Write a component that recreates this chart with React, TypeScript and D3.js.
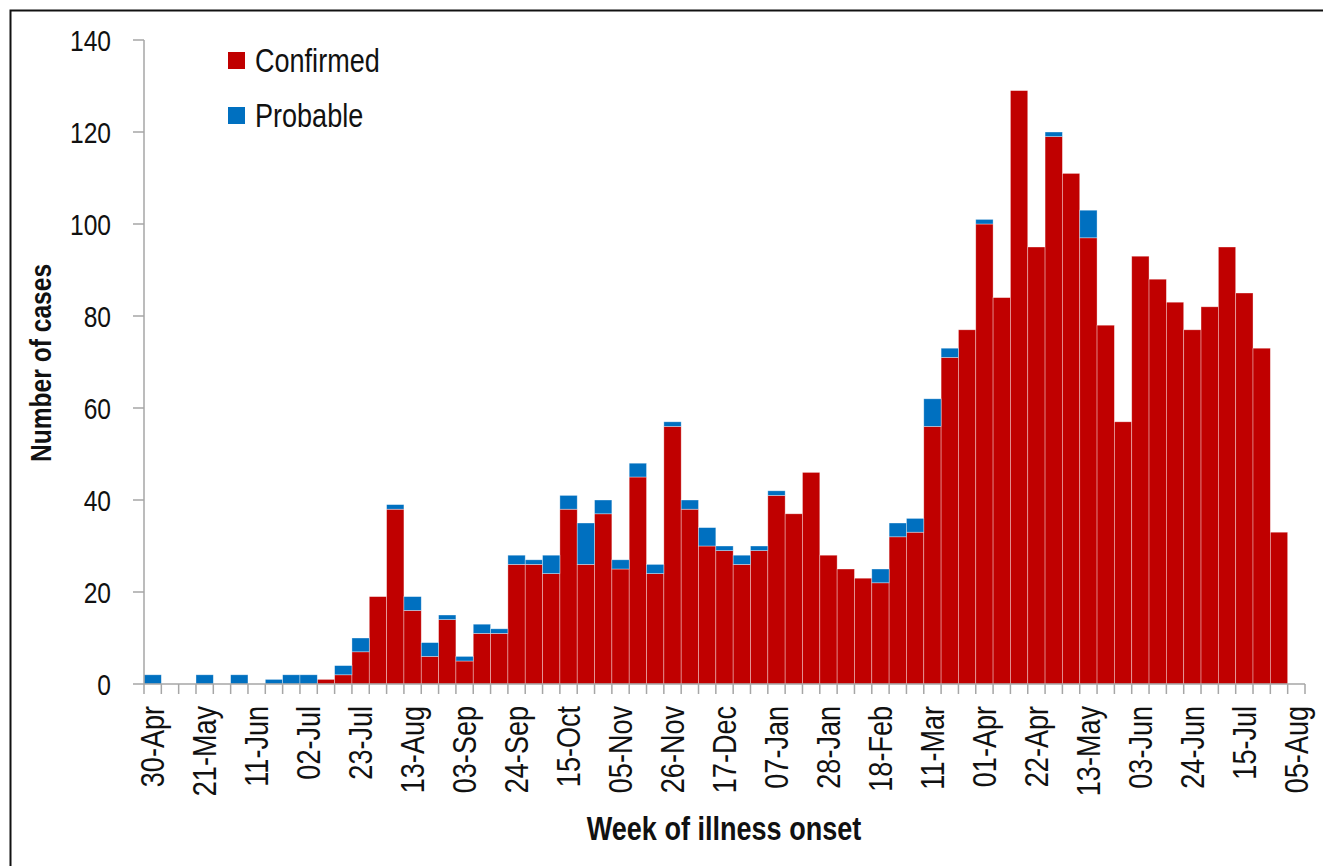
import React from "react";
import * as d3 from "d3";

const weeks = [
  "30-Apr","07-May","14-May","21-May","28-May","04-Jun","11-Jun","18-Jun","25-Jun","02-Jul",
  "09-Jul","16-Jul","23-Jul","30-Jul","06-Aug","13-Aug","20-Aug","27-Aug","03-Sep","10-Sep",
  "17-Sep","24-Sep","01-Oct","08-Oct","15-Oct","22-Oct","29-Oct","05-Nov","12-Nov","19-Nov",
  "26-Nov","03-Dec","10-Dec","17-Dec","24-Dec","31-Dec","07-Jan","14-Jan","21-Jan","28-Jan",
  "04-Feb","11-Feb","18-Feb","25-Feb","04-Mar","11-Mar","18-Mar","25-Mar","01-Apr","08-Apr",
  "15-Apr","22-Apr","29-Apr","06-May","13-May","20-May","27-May","03-Jun","10-Jun","17-Jun",
  "24-Jun","01-Jul","08-Jul","15-Jul","22-Jul","29-Jul","05-Aug",
];

const confirmed = [
  0,0,0,0,0,0,0,0,0,0,
  1,2,7,19,38,16,6,14,5,11,
  11,26,26,24,38,26,37,25,45,24,
  56,38,30,29,26,29,41,37,46,28,
  25,23,22,32,33,56,71,77,100,84,
  129,95,119,111,97,78,57,93,88,83,
  77,82,95,85,73,33,0,
];

const probable = [
  2,0,0,2,0,2,0,1,2,2,
  0,2,3,0,1,3,3,1,1,2,
  1,2,1,4,3,9,3,2,3,2,
  1,2,4,1,2,1,1,0,0,0,
  0,0,3,3,3,6,2,0,1,0,
  0,0,1,0,6,0,0,0,0,0,
  0,0,0,0,0,0,0,
];

const tickLabels = [
  "30-Apr","21-May","11-Jun","02-Jul","23-Jul","13-Aug","03-Sep","24-Sep","15-Oct","05-Nov",
  "26-Nov","17-Dec","07-Jan","28-Jan","18-Feb","11-Mar","01-Apr","22-Apr","13-May","03-Jun",
  "24-Jun","15-Jul","05-Aug",
];

const yTicks = [0, 20, 40, 60, 80, 100, 120, 140];

const seriesNames = ["Confirmed", "Probable"];
const seriesColors = ["#C00000", "#0070C0"];

const FONT = "'Liberation Sans', Arial, sans-serif";
const NARROW = 0.82;

function NText(props: {
  x: number; y: number; rotate?: number; anchor?: string; size: number; weight?: string; children: any;
}) {
  const { x, y, rotate = 0, anchor = "start", size, weight = "normal", children } = props;
  return (
    <g transform={`translate(${x},${y}) rotate(${rotate}) scale(${NARROW},1)`}>
      <text
        x={0}
        y={0}
        dy="0.35em"
        textAnchor={anchor}
        fontFamily={FONT}
        fontSize={size}
        fontWeight={weight}
        fill="#111"
      >
        {children}
      </text>
    </g>
  );
}

export default function App() {
  const W = 1323, H = 866;
  const x = d3.scaleBand<string>().domain(weeks).range([144, 1305]).padding(0);
  const y = d3.scaleLinear().domain([0, 140]).range([684, 40]);

  const table = weeks.map((w, i) => ({ week: w, Confirmed: confirmed[i], Probable: probable[i] }));
  const stacked = d3.stack<any>().keys(seriesNames)(table);

  const boundaries = weeks.map((w) => x(w) as number).concat([x.range()[1]]);

  return (
    <svg width={W} height={H} style={{ position: "absolute", left: 0, top: 0, background: "#fff" }}>
      <rect x={0} y={0} width={W} height={H} fill="#fff" />
      <rect x={10.5} y={10.5} width={W + 50} height={H + 50} fill="none" stroke="#111" strokeWidth={2} />

      {stacked.map((s, si) => (
        <g key={s.key} fill={seriesColors[si]}>
          {s.map((d, i) => {
            const h = y(d[0]) - y(d[1]);
            if (h <= 0) return null;
            return (
              <rect
                key={i}
                x={x(weeks[i]) as number}
                y={y(d[1])}
                width={x.bandwidth()}
                height={h}
                stroke="#ffffff"
                strokeOpacity={0.5}
                strokeWidth={0.7}
              />
            );
          })}
        </g>
      ))}

      {/* Y axis */}
      <line x1={144} x2={144} y1={y(140)} y2={y(0)} stroke="#a6a6a6" strokeWidth={1.5} />
      {yTicks.map((t) => (
        <g key={t}>
          <line x1={133} x2={144} y1={y(t)} y2={y(t)} stroke="#a6a6a6" strokeWidth={1.5} />
          <NText x={111} y={y(t)} anchor="end" size={30}>{t}</NText>
        </g>
      ))}

      {/* X axis */}
      <line x1={144} x2={x.range()[1]} y1={y(0)} y2={y(0)} stroke="#a6a6a6" strokeWidth={1.5} />
      {boundaries.map((bx, i) => (
        <line key={i} x1={bx} x2={bx} y1={y(0)} y2={y(0) + 10} stroke="#a6a6a6" strokeWidth={1.5} />
      ))}
      {tickLabels.map((lab) => {
        const cx = (x(lab) as number) + x.bandwidth() / 2;
        return (
          <NText key={lab} x={cx} y={706} rotate={-90} anchor="end" size={33}>{lab}</NText>
        );
      })}

      {/* Axis titles */}
      <NText x={40} y={363} rotate={-90} anchor="middle" size={30} weight="bold">Number of cases</NText>
      <NText x={724} y={828} anchor="middle" size={33} weight="bold">Week of illness onset</NText>

      {/* Legend */}
      {seriesNames.map((n, i) => (
        <g key={n}>
          <rect x={228} y={52 + i * 55} width={17} height={17} fill={seriesColors[i]} />
          <NText x={255} y={60.5 + i * 55} size={33}>{n}</NText>
        </g>
      ))}
    </svg>
  );
}
